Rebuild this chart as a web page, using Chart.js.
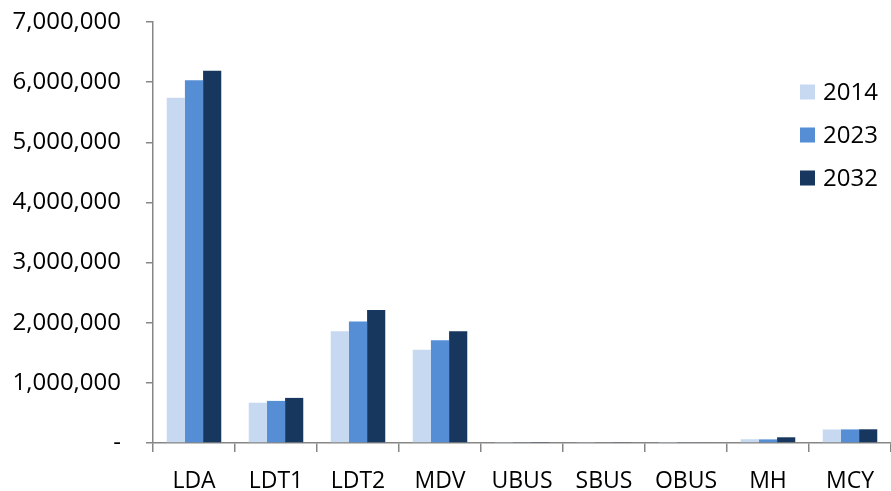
<!DOCTYPE html>
<html>
<head>
<meta charset="utf-8">
<script src="https://cdn.jsdelivr.net/npm/chart.js@4/dist/chart.umd.min.js"></script>
<style>
  html, body { margin: 0; padding: 0; background: #ffffff; }
  #wrap { width: 891px; height: 491px; position: relative; }
</style>
</head>
<body>
<div id="wrap"><canvas id="c" width="891" height="491"></canvas></div>
<script>
// ---- data ----
const categories = ["LDA", "LDT1", "LDT2", "MDV", "UBUS", "SBUS", "OBUS", "MH", "MCY"];
const seriesNames = ["2014", "2023", "2032"];
const values2014 = [5740000, 670000, 1860000, 1550000, 8000, 9000, 7000, 63000, 225000];
const values2023 = [6030000, 700000, 2020000, 1710000, 14000, 13000, 11000, 60000, 226000];
const values2032 = [6190000, 750000, 2210000, 1860000, 16000, 15000, 13000, 95000, 228000];
const yTickValues = [0, 1000000, 2000000, 3000000, 4000000, 5000000, 6000000, 7000000];

const colors = ["#C6D9F1", "#558ED5", "#17375E"];
const FONT = "'Open Sans', 'Liberation Sans', sans-serif";
const AXIS = "#868686";

const manualLegend = {
  id: 'manualLegend',
  afterDraw(chart) {
    const ctx = chart.ctx;
    ctx.save();
    ctx.font = "24px " + FONT;
    ctx.textBaseline = 'middle';
    ctx.textAlign = 'left';
    const x0 = 800, yStart = 92, step = 43, box = 15;
    chart.data.datasets.forEach((ds, i) => {
      const yc = yStart + i * step;
      ctx.fillStyle = ds.backgroundColor;
      ctx.fillRect(x0, yc - box / 2, box, box);
      ctx.fillStyle = '#000000';
      ctx.fillText(ds.label, x0 + 23, yc + 1);
    });
    ctx.restore();
  }
};

new Chart(document.getElementById('c'), {
  type: 'bar',
  data: {
    labels: categories,
    datasets: [
      { label: seriesNames[0], data: values2014, backgroundColor: colors[0] },
      { label: seriesNames[1], data: values2023, backgroundColor: colors[1] },
      { label: seriesNames[2], data: values2032, backgroundColor: colors[2] }
    ]
  },
  options: {
    responsive: false,
    animation: false,
    devicePixelRatio: 1,
    layout: { padding: { top: 22, right: 0, bottom: 0, left: 0 } },
    datasets: { bar: { categoryPercentage: 0.665, barPercentage: 1.0, borderWidth: 0 } },
    plugins: {
      legend: { display: false },
      tooltip: { enabled: false }
    },
    scales: {
      x: {
        offset: true,
        grid: { display: true, offset: true, drawOnChartArea: false, drawTicks: true, tickLength: 9, color: AXIS, lineWidth: 1.5 },
        border: { display: true, color: AXIS, width: 1.5 },
        ticks: { color: '#000000', font: { family: FONT, size: 23 }, padding: 16, maxRotation: 0, autoSkip: false },
        afterFit(scale) { scale.height = 48; scale.paddingLeft = 0; scale.paddingRight = 0; }
      },
      y: {
        min: 0,
        max: 7000000,
        afterBuildTicks(scale) { scale.ticks = yTickValues.map(v => ({ value: v })); },
        grid: { display: true, drawOnChartArea: false, drawTicks: true, tickLength: 7, color: AXIS, lineWidth: 1.5 },
        border: { display: true, color: AXIS, width: 1.5 },
        ticks: {
          color: '#000000',
          font: { family: FONT, size: 24 },
          padding: 25,
          callback: (v) => v === 0 ? '-' : Number(v).toLocaleString('en-US')
        },
        afterFit(scale) { scale.width = 153; scale.paddingTop = 0; scale.paddingBottom = 0; }
      }
    }
  },
  plugins: [manualLegend]
});
</script>
</body>
</html>
